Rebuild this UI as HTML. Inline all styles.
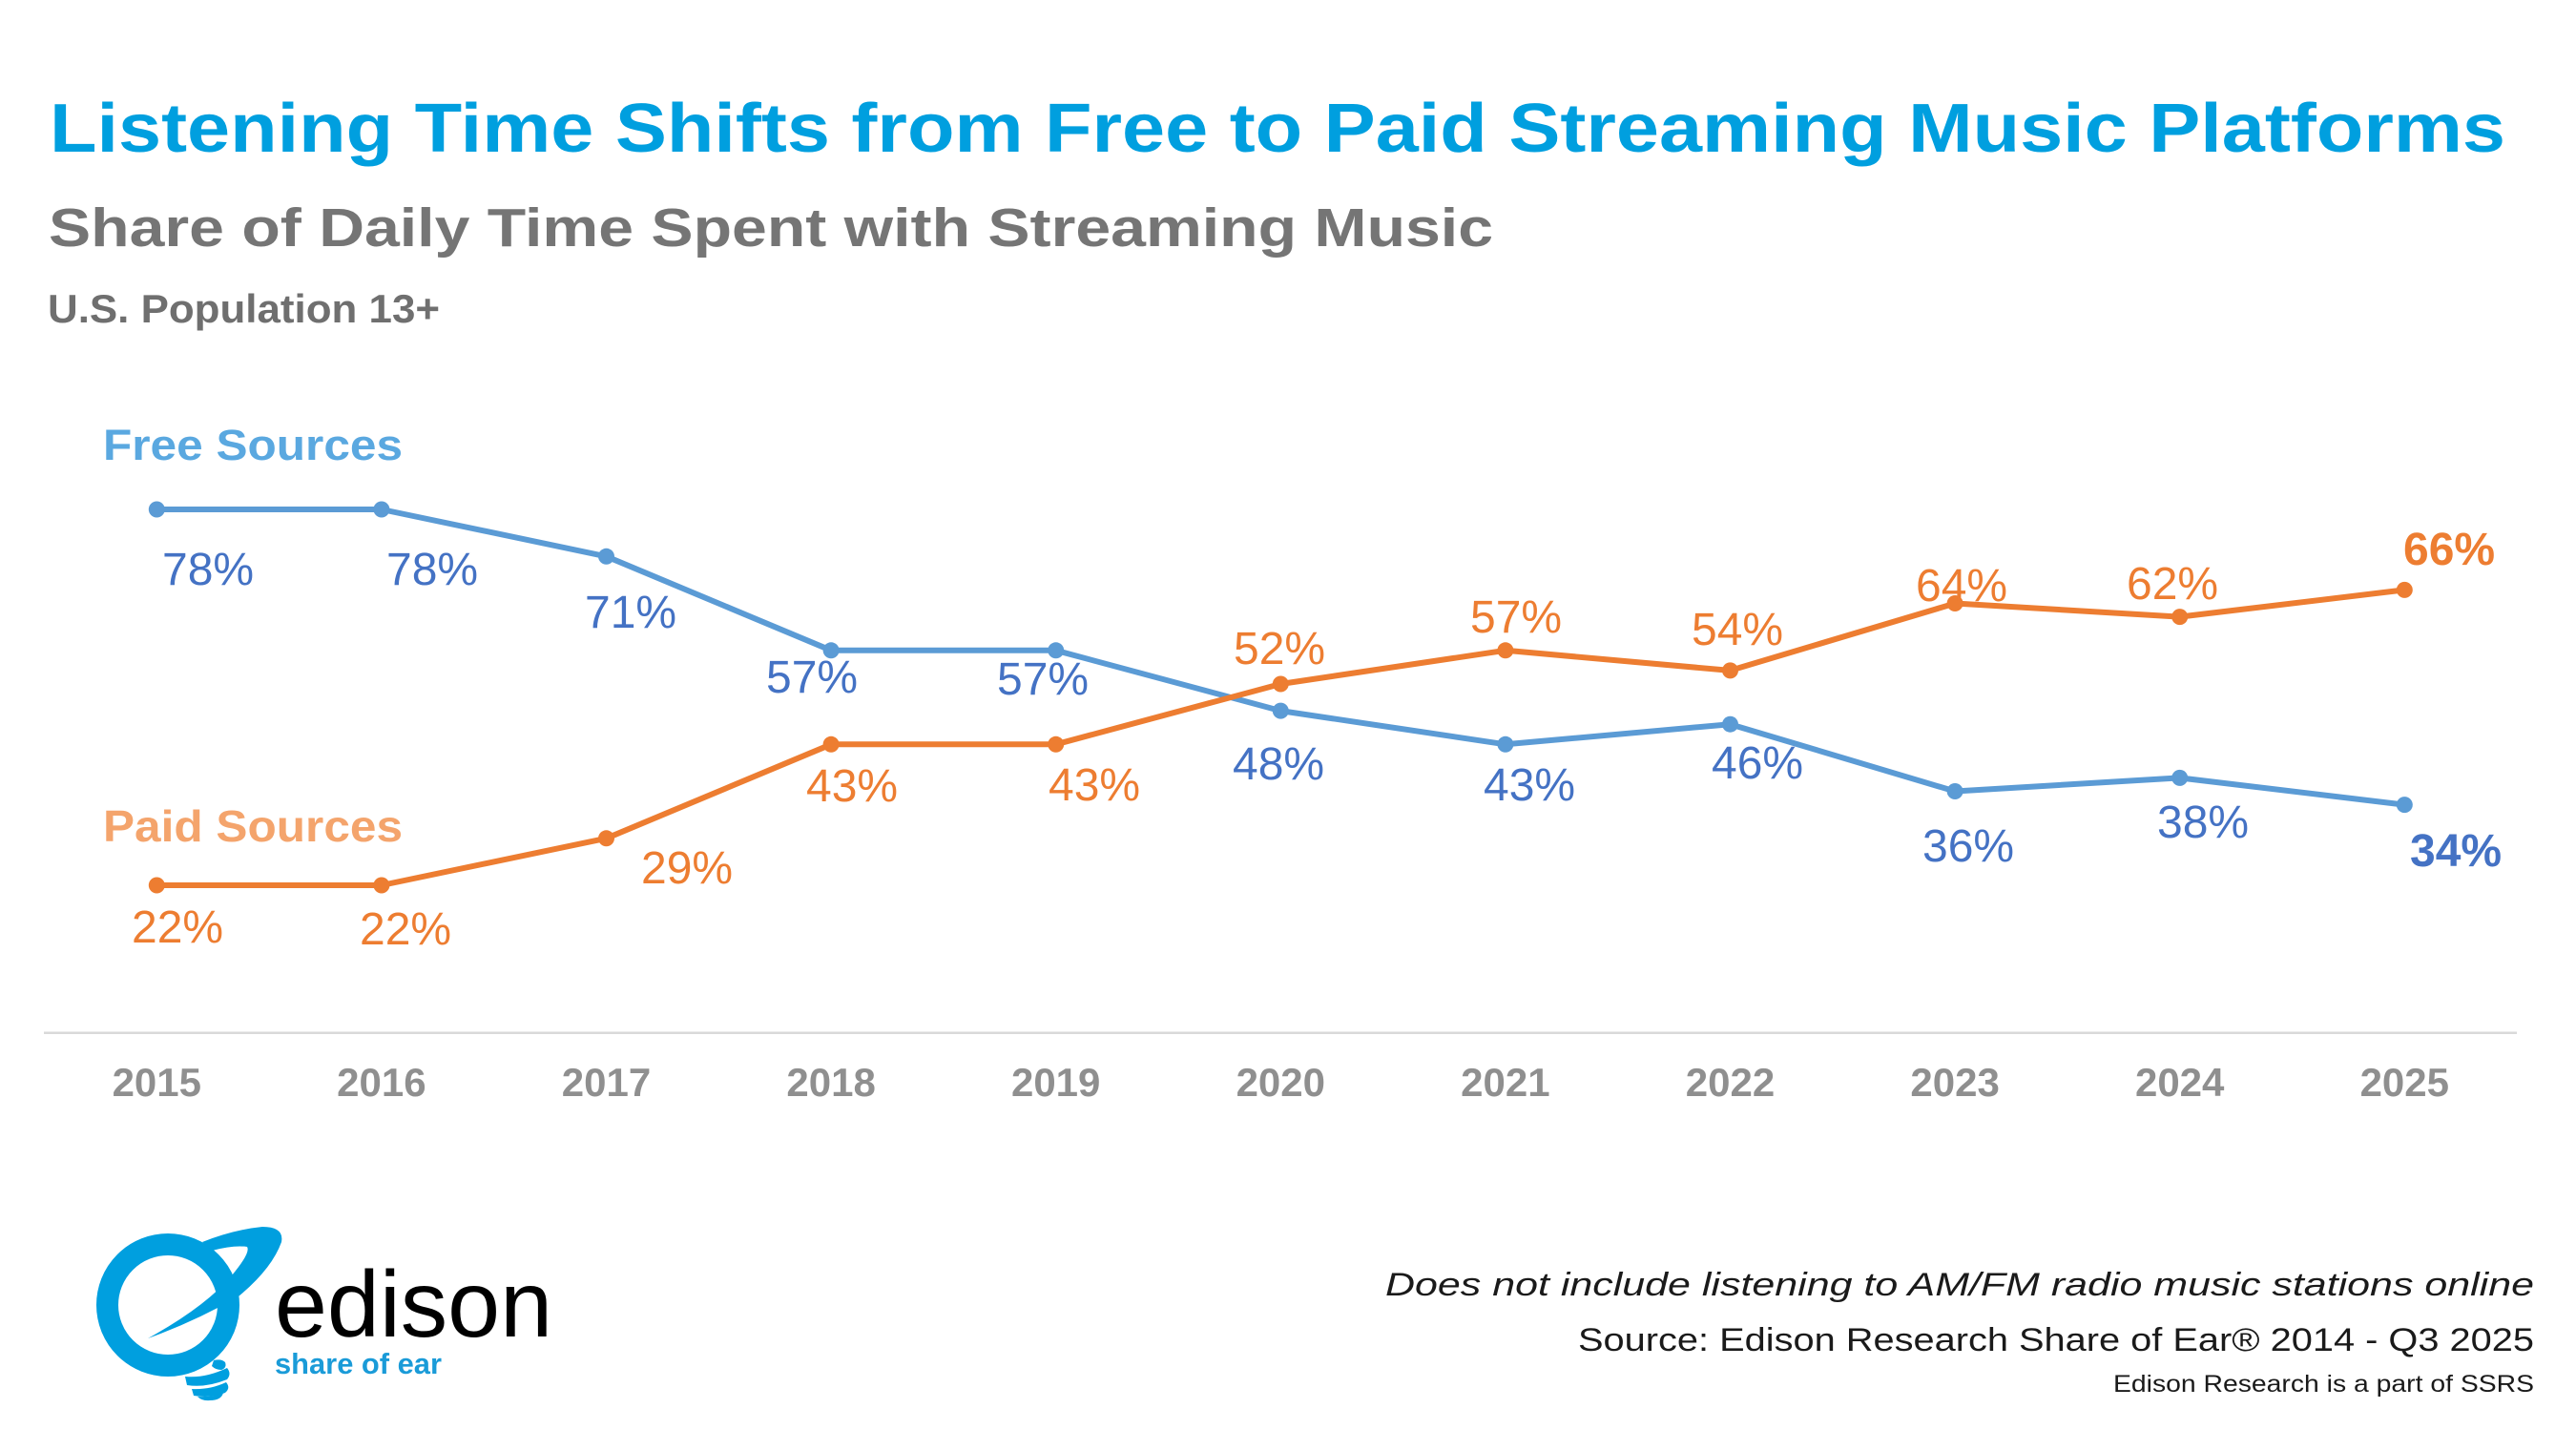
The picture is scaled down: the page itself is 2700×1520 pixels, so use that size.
<!DOCTYPE html>
<html>
<head>
<meta charset="utf-8">
<style>
  html, body { margin:0; padding:0; background:#ffffff; }
  body { width:2700px; height:1520px; overflow:hidden; }
  svg { display:block; }
  text { font-family: "Liberation Sans", Arial, sans-serif; }
</style>
</head>
<body>
<svg width="2700" height="1520" viewBox="0 0 2700 1520" xmlns="http://www.w3.org/2000/svg">
  <rect x="0" y="0" width="2700" height="1520" fill="#ffffff"/>

  <!-- Titles -->
  <text x="52" y="159" font-size="72" font-weight="bold" fill="#009FDF" textLength="2574" lengthAdjust="spacingAndGlyphs">Listening Time Shifts from Free to Paid Streaming Music Platforms</text>
  <text x="51" y="258" font-size="57" font-weight="bold" fill="#757575" textLength="1514" lengthAdjust="spacingAndGlyphs">Share of Daily Time Spent with Streaming Music</text>
  <text x="50" y="338" font-size="42" font-weight="bold" fill="#6f6f6f" textLength="411" lengthAdjust="spacingAndGlyphs">U.S. Population 13+</text>

  <!-- Series names -->
  <text x="108" y="482" font-size="45" font-weight="bold" fill="#5AA8E0" textLength="314" lengthAdjust="spacingAndGlyphs">Free Sources</text>
  <text x="108" y="882" font-size="46" font-weight="bold" fill="#F4A46C" textLength="314" lengthAdjust="spacingAndGlyphs">Paid Sources</text>

  <!-- Axis line -->
  <rect x="46" y="1081.5" width="2592" height="2.5" fill="#d9d9d9"/>

  <!-- Year labels -->
  <g font-size="42" font-weight="bold" fill="#8f8f8f" text-anchor="middle">
    <text x="164.3" y="1149">2015</text>
    <text x="399.9" y="1149">2016</text>
    <text x="635.5" y="1149">2017</text>
    <text x="871.1" y="1149">2018</text>
    <text x="1106.7" y="1149">2019</text>
    <text x="1342.3" y="1149">2020</text>
    <text x="1577.9" y="1149">2021</text>
    <text x="1813.5" y="1149">2022</text>
    <text x="2049.1" y="1149">2023</text>
    <text x="2284.7" y="1149">2024</text>
    <text x="2520.3" y="1149">2025</text>
  </g>

  <!-- Free line -->
  <polyline fill="none" stroke="#5B9BD5" stroke-width="6" stroke-linejoin="round" stroke-linecap="round"
    points="164.3,534 399.9,534 635.5,583.3 871.1,681.8 1106.7,681.8 1342.3,745.1 1577.9,780.3 1813.5,759.2 2049.1,829.5 2284.7,815.4 2520.3,843.6"/>
  <g fill="#5B9BD5">
    <circle cx="164.3" cy="534" r="8.5"/>
    <circle cx="399.9" cy="534" r="8.5"/>
    <circle cx="635.5" cy="583.3" r="8.5"/>
    <circle cx="871.1" cy="681.8" r="8.5"/>
    <circle cx="1106.7" cy="681.8" r="8.5"/>
    <circle cx="1342.3" cy="745.1" r="8.5"/>
    <circle cx="1577.9" cy="780.3" r="8.5"/>
    <circle cx="1813.5" cy="759.2" r="8.5"/>
    <circle cx="2049.1" cy="829.5" r="8.5"/>
    <circle cx="2284.7" cy="815.4" r="8.5"/>
    <circle cx="2520.3" cy="843.6" r="8.5"/>
  </g>

  <!-- Paid line -->
  <polyline fill="none" stroke="#ED7D31" stroke-width="6" stroke-linejoin="round" stroke-linecap="round"
    points="164.3,928 399.9,928 635.5,878.8 871.1,780.3 1106.7,780.3 1342.3,717 1577.9,681.8 1813.5,702.9 2049.1,632.5 2284.7,646.6 2520.3,618.4"/>
  <g fill="#ED7D31">
    <circle cx="164.3" cy="928" r="8.5"/>
    <circle cx="399.9" cy="928" r="8.5"/>
    <circle cx="635.5" cy="878.8" r="8.5"/>
    <circle cx="871.1" cy="780.3" r="8.5"/>
    <circle cx="1106.7" cy="780.3" r="8.5"/>
    <circle cx="1342.3" cy="717" r="8.5"/>
    <circle cx="1577.9" cy="681.8" r="8.5"/>
    <circle cx="1813.5" cy="702.9" r="8.5"/>
    <circle cx="2049.1" cy="632.5" r="8.5"/>
    <circle cx="2284.7" cy="646.6" r="8.5"/>
    <circle cx="2520.3" cy="618.4" r="8.5"/>
  </g>

  <!-- Free labels -->
  <g font-size="48" fill="#4472C4">
    <text x="170" y="613">78%</text>
    <text x="405" y="613">78%</text>
    <text x="613" y="658">71%</text>
    <text x="803" y="726">57%</text>
    <text x="1045" y="728">57%</text>
    <text x="1292" y="817">48%</text>
    <text x="1555" y="839">43%</text>
    <text x="1794" y="816">46%</text>
    <text x="2015" y="903">36%</text>
    <text x="2261" y="878">38%</text>
    <text x="2526" y="908" font-weight="bold">34%</text>
  </g>

  <!-- Paid labels -->
  <g font-size="48" fill="#ED7D31">
    <text x="138" y="988">22%</text>
    <text x="377" y="990">22%</text>
    <text x="672" y="926">29%</text>
    <text x="845" y="840">43%</text>
    <text x="1099" y="839">43%</text>
    <text x="1293" y="696">52%</text>
    <text x="1541" y="663">57%</text>
    <text x="1773" y="676">54%</text>
    <text x="2008" y="630">64%</text>
    <text x="2229" y="628">62%</text>
    <text x="2519" y="592" font-weight="bold">66%</text>
  </g>

  <!-- Logo -->
  <g fill="#009FDF">
    <circle cx="176" cy="1368" r="63.5" fill="none" stroke="#009FDF" stroke-width="23"/>
    <path d="M155,1403 Q205,1385 250,1359 Q285,1330 295,1302 Q298,1286 275,1286 Q245,1289 212,1302 L222,1311 Q245,1305 259,1307 Q263,1313 243,1337 Q215,1370 155,1403 Z"/>
    <path d="M194,1443 Q215,1445 238,1434 Q243,1440 238,1446 Q216,1455 196,1452 Z"/>
    <path d="M201,1456 Q220,1457 237,1449 Q242,1455 236,1460 Q221,1466 203,1463 Z"/>
    <path d="M207,1464 Q222,1465 234,1460 Q232,1468 220,1468 Q212,1469 207,1464 Z"/>
    <path d="M224,1426 Q232,1424 236,1428 Q238,1434 232,1436 Q226,1436 222,1432 Z"/>
  </g>
  <text x="288" y="1401" font-size="98" fill="#000000" textLength="291" lengthAdjust="spacingAndGlyphs">edison</text>
  <text x="288" y="1440" font-size="31" font-weight="bold" fill="#1A9BD8" textLength="175" lengthAdjust="spacingAndGlyphs">share of ear</text>

  <!-- Footer -->
  <text x="1452" y="1358" font-size="34" font-style="italic" fill="#1a1a1a" textLength="1204" lengthAdjust="spacingAndGlyphs">Does not include listening to AM/FM radio music stations online</text>
  <text x="1654" y="1416" font-size="34" fill="#1a1a1a" textLength="1002" lengthAdjust="spacingAndGlyphs">Source: Edison Research Share of Ear® 2014 - Q3 2025</text>
  <text x="2215" y="1459" font-size="25" fill="#1a1a1a" textLength="441" lengthAdjust="spacingAndGlyphs">Edison Research is a part of SSRS</text>
</svg>
</body>
</html>
